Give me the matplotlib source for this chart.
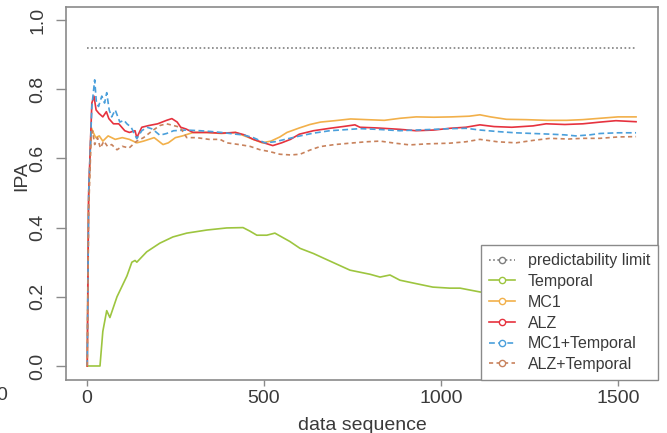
import matplotlib
matplotlib.use("Agg")
import matplotlib.pyplot as plt
from matplotlib.lines import Line2D

plt.rcParams['font.family'] = ['Liberation Sans', 'DejaVu Sans']

# ---------------- data ----------------
limit_x = [1, 1551]
limit_y = [0.919, 0.919]

temporal_x = [1, 37, 45, 56, 65, 85, 113, 127, 136, 141, 169, 206, 243, 282, 339, 395, 441,
              460, 480, 508, 531, 573, 602, 640, 672, 743, 800, 828, 856, 884, 930, 977,
              1025, 1054, 1110, 1180, 1260, 1350, 1450, 1551]
temporal_y = [0, 0, 0.10, 0.16, 0.14, 0.20, 0.26, 0.30, 0.305, 0.30, 0.33, 0.355, 0.373, 0.384,
              0.393, 0.399, 0.40, 0.39, 0.378, 0.378, 0.384, 0.36, 0.34, 0.325, 0.31, 0.277,
              0.265, 0.257, 0.263, 0.248, 0.238, 0.228, 0.225, 0.225, 0.214, 0.205, 0.198,
              0.19, 0.185, 0.18]

mc1_x = [1, 4, 12, 18, 25, 35, 45, 60, 80, 100, 120, 141, 160, 190, 215, 230, 250, 270, 300,
         340, 380, 420, 445, 470, 495, 520, 545, 565, 600, 630, 660, 700, 745, 790, 840, 885,
         930, 980, 1030, 1080, 1110, 1140, 1185, 1240, 1300, 1355, 1400, 1450, 1500, 1551]
mc1_y = [0, 0.45, 0.69, 0.675, 0.66, 0.665, 0.65, 0.665, 0.655, 0.66, 0.655, 0.645, 0.65,
         0.66, 0.64, 0.645, 0.66, 0.665, 0.675, 0.675, 0.672, 0.675, 0.665, 0.655, 0.645,
         0.65, 0.662, 0.675, 0.688, 0.698, 0.705, 0.709, 0.714, 0.712, 0.71, 0.716, 0.72,
         0.719, 0.72, 0.722, 0.726, 0.72, 0.713, 0.712, 0.71, 0.71, 0.712, 0.716, 0.72, 0.72]

alz_x = [1, 5, 14, 20, 26, 34, 45, 55, 62, 75, 90, 107, 120, 136, 141, 155, 175, 200, 225,
         240, 255, 265, 280, 300, 340, 380, 420, 445, 470, 500, 525, 550, 575, 600, 640, 686,
         730, 757, 771, 820, 884, 929, 980, 1025, 1070, 1110, 1150, 1200, 1260, 1297, 1350,
         1401, 1450, 1494, 1551]
alz_y = [0, 0.5, 0.76, 0.78, 0.74, 0.73, 0.72, 0.735, 0.715, 0.70, 0.70, 0.68, 0.675, 0.68,
         0.66, 0.69, 0.695, 0.70, 0.71, 0.715, 0.705, 0.69, 0.685, 0.675, 0.675, 0.673, 0.675,
         0.668, 0.655, 0.645, 0.637, 0.645, 0.655, 0.67, 0.68, 0.687, 0.693, 0.697, 0.69,
         0.688, 0.684, 0.68, 0.682, 0.687, 0.69, 0.697, 0.692, 0.69, 0.694, 0.70, 0.698, 0.70,
         0.705, 0.709, 0.706]

mc1t_x = [1, 5, 14, 22, 27, 33, 42, 50, 56, 63, 70, 80, 93, 105, 113, 125, 141, 155, 170,
          185, 206, 225, 245, 280, 320, 347, 380, 420, 441, 470, 503, 530, 560, 602, 640, 686,
          730, 771, 820, 884, 930, 980, 1030, 1071, 1110, 1167, 1210, 1260, 1310, 1350, 1381,
          1420, 1449, 1500, 1551]
mc1t_y = [0, 0.5, 0.75, 0.827, 0.76, 0.75, 0.78, 0.76, 0.79, 0.74, 0.72, 0.74, 0.705, 0.71,
          0.70, 0.69, 0.657, 0.68, 0.69, 0.685, 0.667, 0.672, 0.68, 0.682, 0.68, 0.678, 0.675,
          0.67, 0.668, 0.66, 0.645, 0.648, 0.655, 0.665, 0.673, 0.68, 0.683, 0.686, 0.684,
          0.68, 0.682, 0.684, 0.686, 0.687, 0.682, 0.677, 0.674, 0.672, 0.67, 0.668, 0.665,
          0.668, 0.672, 0.674, 0.674]

alzt_x = [1, 5, 12, 16, 22, 30, 38, 48, 58, 70, 85, 100, 119, 141, 160, 185, 206, 225, 245,
          263, 282, 310, 345, 376, 395, 430, 460, 489, 515, 545, 575, 602, 630, 658, 700, 743,
          788, 828, 870, 912, 960, 1025, 1070, 1110, 1160, 1212, 1260, 1308, 1360, 1400, 1449,
          1500, 1551]
alzt_y = [0, 0.45, 0.66, 0.68, 0.64, 0.66, 0.63, 0.65, 0.635, 0.64, 0.625, 0.635, 0.63, 0.65,
          0.66, 0.68, 0.695, 0.70, 0.695, 0.69, 0.66, 0.66, 0.655, 0.655, 0.645, 0.64, 0.635,
          0.625, 0.62, 0.612, 0.61, 0.612, 0.624, 0.634, 0.64, 0.644, 0.648, 0.65, 0.644,
          0.639, 0.642, 0.644, 0.648, 0.655, 0.648, 0.645, 0.652, 0.658, 0.656, 0.658, 0.658,
          0.662, 0.663]

labels = ["predictability limit", "Temporal", "MC1", "ALZ", "MC1+Temporal", "ALZ+Temporal"]
xticks = [0, 500, 1000, 1500]
yticks = [0.0, 0.2, 0.4, 0.6, 0.8, 1.0]
ytick_labels = ["0.0", "0.2", "0.4", "0.6", "0.8", "1.0"]

# ---------------- style ----------------
colors = ["#7f7f7f", "#9DC53F", "#F2B04A", "#E6323E", "#4A9FDB", "#C8825C"]
styles = [(0, (1, 1.5)), "-", "-", "-", (0, (3.5, 2)), (0, (2.5, 2))]
frame_col = "#8a8a8a"
text_col = "#3a3a3a"

fig = plt.figure(figsize=(6.67, 4.33), dpi=100)
ax = fig.add_axes([66 / 667, 1 - 380 / 433, (658 - 66) / 667, (380 - 7) / 433])

series = [(limit_x, limit_y), (temporal_x, temporal_y), (mc1_x, mc1_y), (alz_x, alz_y),
          (mc1t_x, mc1t_y), (alzt_x, alzt_y)]
for (xs, ys), c, ls in zip(series, colors, styles):
    ax.plot(xs, ys, color=c, linestyle=ls, linewidth=1.2)

ax.set_xlim(-59, 1613)
ax.set_ylim(-0.0405, 1.0376)
ax.set_xticks(xticks)
ax.set_yticks(yticks)
ax.set_yticklabels(ytick_labels, rotation=90, va="center")
ax.tick_params(axis="x", length=4, width=1, color=frame_col, pad=3, labelsize=14,
               labelcolor=text_col)
ax.tick_params(axis="y", length=7, width=1, color=frame_col, pad=7, labelsize=14,
               labelcolor=text_col)
for sp in ax.spines.values():
    sp.set_color(frame_col)
    sp.set_linewidth(1.2)

fig.text(22 / 667, 1 - 176 / 433, "IPA", rotation=90, ha="center", va="center",
         fontsize=14, color=text_col)
fig.text(362 / 667, 1 - 430 / 433, "data sequence", ha="center", va="baseline",
         fontsize=14, color=text_col)
fig.text(2 / 667, 1 - 395 / 433, "0", ha="center", va="center", fontsize=14, color=text_col)

handles = [Line2D([0], [0], color=c, linestyle=ls, linewidth=1.2, marker="o",
                  markersize=4.5, markerfacecolor="white", markeredgecolor=c)
           for c, ls in zip(colors, styles)]
leg = ax.legend(handles, labels, loc="lower right", bbox_to_anchor=(1.0, 0.0),
                borderaxespad=0, fontsize=11.5, handlelength=1.6, handletextpad=0.8,
                labelspacing=0.36, borderpad=0.5, frameon=True, fancybox=False,
                edgecolor=frame_col, framealpha=1)
leg.get_frame().set_linewidth(1.0)
for t in leg.get_texts():
    t.set_color(text_col)

fig.savefig("out.png", dpi=100)
